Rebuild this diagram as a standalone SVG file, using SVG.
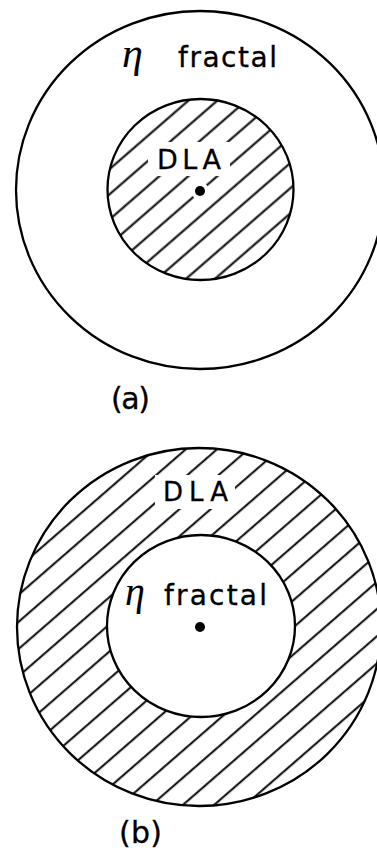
<svg xmlns="http://www.w3.org/2000/svg" width="377" height="850" viewBox="0 0 377 850">
<style>
.c{fill:none;stroke:#000;stroke-width:2.3}
.t{font-family:"DejaVu Sans","Liberation Sans",sans-serif;fill:#000;stroke:#000;stroke-width:0.3}
.g{font-family:"Liberation Serif","DejaVu Serif",serif;font-style:italic;fill:#000}
.w{fill:#fff;stroke:none}
</style>
<defs>
<pattern id="hA" patternUnits="userSpaceOnUse" width="40" height="19" patternTransform="rotate(-41)">
<line x1="0" y1="9.5" x2="40" y2="9.5" stroke="#000" stroke-width="1.9"/>
</pattern>
<pattern id="hB" patternUnits="userSpaceOnUse" width="40" height="20.5" patternTransform="rotate(-41)">
<line x1="0" y1="10" x2="40" y2="10" stroke="#000" stroke-width="1.9"/>
</pattern>
</defs>
<g id="panel-a">
<ellipse class="c" cx="200" cy="190" rx="184" ry="179"/>
<ellipse cx="200.5" cy="189.5" rx="93" ry="90.5" fill="url(#hA)"/>
<rect class="w" x="148" y="142" width="82" height="34"/>
<circle class="w" cx="200" cy="191" r="9"/>
<ellipse class="c" cx="200.5" cy="189.5" rx="93" ry="90.5"/>
<circle cx="200" cy="191" r="5" fill="#000"/>
<text class="g" x="122" y="67" font-size="42">η</text>
<text class="t" x="178" y="67" font-size="28" textLength="99" lengthAdjust="spacing">fractal</text>
<text class="t" x="157" y="169" font-size="27" textLength="64" lengthAdjust="spacing">DLA</text>
<text class="t" x="111" y="409" font-size="30" textLength="39" lengthAdjust="spacing">(a)</text>
</g>
<g id="panel-b">
<ellipse cx="199" cy="627" rx="182" ry="179" fill="url(#hB)"/>
<rect class="w" x="155" y="475" width="80" height="34"/>
<ellipse cx="201" cy="626" rx="94" ry="91" fill="#fff"/>
<ellipse class="c" cx="199" cy="627" rx="182" ry="179"/>
<ellipse class="c" cx="201" cy="626" rx="94" ry="91"/>
<circle cx="200" cy="627" r="5" fill="#000"/>
<text class="g" x="125" y="605" font-size="40">η</text>
<text class="t" x="164" y="605" font-size="28" textLength="103" lengthAdjust="spacing">fractal</text>
<text class="t" x="163" y="501" font-size="26" textLength="65" lengthAdjust="spacing">DLA</text>
<text class="t" x="119" y="843" font-size="30" textLength="43" lengthAdjust="spacing">(b)</text>
</g>
</svg>
